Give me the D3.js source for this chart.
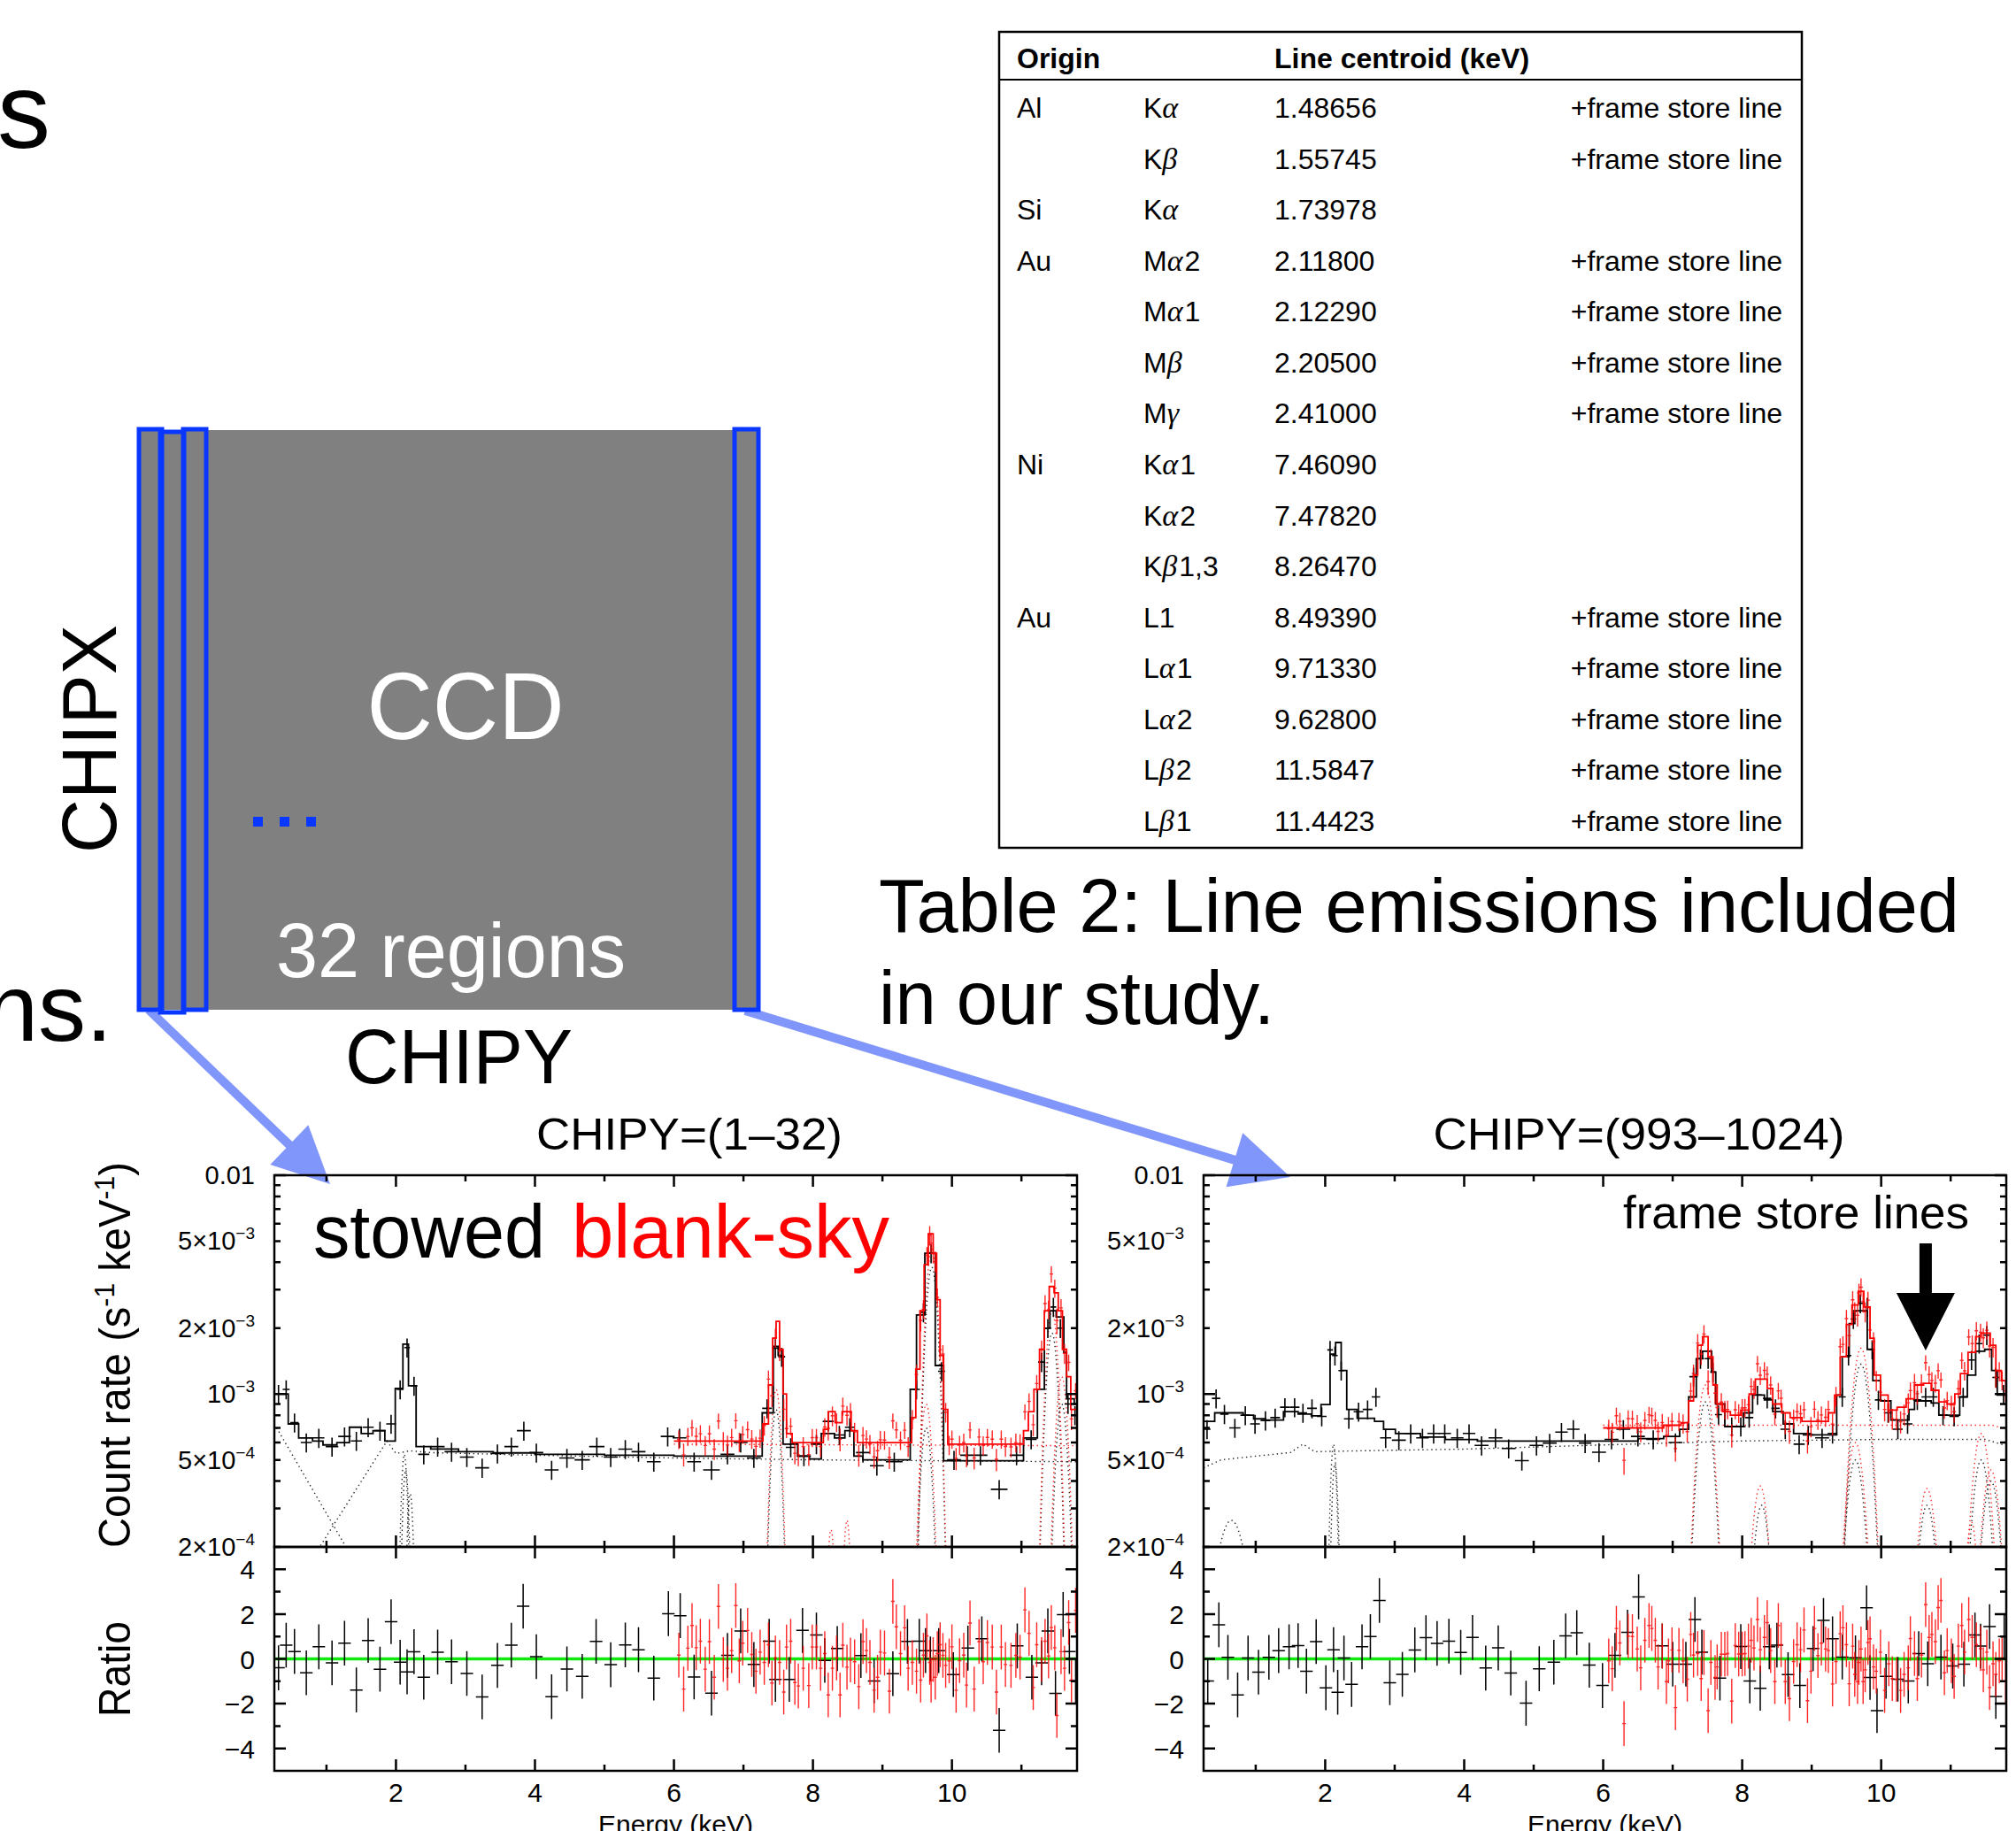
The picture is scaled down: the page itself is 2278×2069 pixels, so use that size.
<!DOCTYPE html>
<html>
<head>
<meta charset="utf-8">
<script src="https://cdn.jsdelivr.net/npm/d3@7"></script>
<style>
  html, body { margin: 0; padding: 0; background: #fff; }
  svg { display: block; }
</style>
</head>
<body>
<svg id="fig" width="2278" height="2069"></svg>
<script>
// ---- table 2 ----
var tblOrigin = ['Al', '', 'Si', 'Au', '', '', '', 'Ni', '', '', 'Au', '', '', '', ''];
var tblLine = ['Kα', 'Kβ', 'Kα', 'Mα2', 'Mα1', 'Mβ', 'Mγ', 'Kα1', 'Kα2', 'Kβ1,3', 'L1', 'Lα1', 'Lα2', 'Lβ2', 'Lβ1'];
var tblCentroid = ['1.48656', '1.55745', '1.73978', '2.11800', '2.12290', '2.20500', '2.41000',
  '7.46090', '7.47820', '8.26470', '8.49390', '9.71330', '9.62800', '11.5847', '11.4423'];
var tblFrameStore = [1, 1, 0, 1, 1, 1, 1, 0, 0, 0, 1, 1, 1, 1, 1];

// ---- spectra: axis ranges and tick labels ----
var E_RANGE = [0.25, 11.8];
var RATE_RANGE = [2e-4, 1e-2];
var RATIO_RANGE = [-5, 5];
var energyLabels = [2, 4, 6, 8, 10];
var energyMinor = [1, 3, 5, 7, 9, 11];
var rateLabels = [[1e-2, '0.01', ''], [5e-3, '5×10', '−3'], [2e-3, '2×10', '−3'],
  [1e-3, '10', '−3'], [5e-4, '5×10', '−4'], [2e-4, '2×10', '−4']];
var ratioLabels = [4, 2, 0, -2, -4];

// relative errors and bin half widths
var BLK_ERR = 0.1, RED_ERR = 0.1, BLK_RHW = 0.09, RED_HW = 0.025;

// ---- CHIPY=(1-32) ----
// stowed data: [energy, half width, rate]
var stowedL = [[0.31,0.05,1.0e-3],[0.42,0.05,1.05e-3],[0.54,0.06,7.4e-4],[0.71,0.08,6.0e-4],[0.89,0.08,6.3e-4],
  [1.08,0.09,5.75e-4],[1.26,0.09,6.4e-4],[1.43,0.08,6.1e-4],[1.60,0.08,7.05e-4],[1.77,0.08,6.8e-4],
  [1.93,0.07,7.3e-4],[2.06,0.05,1.05e-3],[2.16,0.04,1.63e-3],[2.26,0.05,1.09e-3],[2.40,0.08,5.3e-4],
  [2.60,0.1,5.75e-4],[2.80,0.1,5.45e-4],[3.02,0.1,5.15e-4],[3.24,0.1,4.6e-4],[3.46,0.1,5.35e-4],
  [3.66,0.1,5.75e-4],[3.84,0.1,6.8e-4],[4.02,0.1,5.4e-4],[4.24,0.1,4.5e-4],[4.46,0.11,5.1e-4],
  [4.68,0.11,5.0e-4],[4.89,0.11,5.75e-4],[5.09,0.1,5.15e-4],[5.30,0.1,5.6e-4],[5.49,0.1,5.45e-4],
  [5.71,0.1,4.9e-4],[5.91,0.1,6.4e-4],[6.08,0.1,6.3e-4],[6.29,0.1,4.9e-4],[6.54,0.12,4.5e-4],
  [6.77,0.1,5.3e-4],[6.96,0.1,6.0e-4],[7.15,0.1,5.1e-4],[7.34,0.07,8.6e-4],[7.46,0.05,1.62e-3],
  [7.55,0.05,1.48e-3],[7.68,0.07,5.7e-4],[7.87,0.1,5.2e-4],[8.05,0.08,5.9e-4],[8.22,0.08,7.5e-4],
  [8.38,0.08,6.5e-4],[8.53,0.07,7.05e-4],[8.72,0.1,5.4e-4],[8.92,0.1,4.7e-4],[9.17,0.12,4.9e-4],
  [9.49,0.05,1.05e-3],[9.59,0.04,2.36e-3],[9.70,0.04,4.4e-3],[9.85,0.05,1.27e-3],[10.03,0.1,5.0e-4],
  [10.22,0.1,5.25e-4],[10.41,0.1,5.25e-4],[10.68,0.12,3.67e-4],[10.93,0.1,5.25e-4],[11.14,0.08,6.2e-4],
  [11.29,0.05,1.4e-3],[11.38,0.05,2.0e-3],[11.46,0.04,2.5e-3],[11.56,0.05,2.0e-3],[11.67,0.05,9.0e-4],
  [11.77,0.04,8.0e-4]];
// folded model, step starts: [energy, rate]
var stowedModelL = [[0.25,1.0e-3],[0.45,7.3e-4],[0.60,6.3e-4],[0.80,6.1e-4],[0.95,5.85e-4],[1.15,6.0e-4],
  [1.33,7.05e-4],[1.50,6.6e-4],[1.67,6.8e-4],[1.84,6.1e-4],[1.99,1.06e-3],[2.10,1.69e-3],[2.18,1.09e-3],
  [2.29,5.75e-4],[2.50,5.6e-4],[2.90,5.45e-4],[3.40,5.38e-4],[4.00,5.3e-4],[5.00,5.25e-4],[6.00,5.2e-4],
  [7.27,8.2e-4],[7.43,1.65e-3],[7.50,1.5e-3],[7.57,5.9e-4],[7.78,5.2e-4],[7.95,5.05e-4],[8.12,6.6e-4],
  [8.31,6.3e-4],[8.46,6.8e-4],[8.59,5.2e-4],[8.72,5.0e-4],[9.40,1.05e-3],[9.49,2.3e-3],[9.61,4.4e-3],
  [9.76,1.35e-3],[9.88,4.95e-4],[11.03,6.3e-4],[11.23,1.05e-3],[11.33,2.0e-3],[11.41,2.4e-3],
  [11.50,2.25e-3],[11.61,1.55e-3],[11.65,9.5e-4],[11.76,9.0e-4]];
var skyModelL = [[6.00,6.1e-4],[7.28,7.3e-4],[7.36,1.1e-3],[7.42,1.8e-3],[7.47,2.15e-3],[7.52,1.6e-3],
  [7.57,1.0e-3],[7.62,6.6e-4],[7.70,6.0e-4],[8.15,6.9e-4],[8.22,8.3e-4],[8.32,7.4e-4],[8.42,8.3e-4],
  [8.55,6.8e-4],[8.64,6.0e-4],[9.42,7.8e-4],[9.48,1.3e-3],[9.54,2.4e-3],[9.60,3.9e-3],[9.66,5.4e-3],
  [9.73,4.4e-3],[9.78,2.7e-3],[9.83,1.5e-3],[9.88,8.5e-4],[9.94,5.9e-4],[11.03,6.8e-4],[11.10,8.3e-4],
  [11.18,1.05e-3],[11.26,1.6e-3],[11.33,2.4e-3],[11.40,3.1e-3],[11.47,2.9e-3],[11.53,2.4e-3],
  [11.59,1.6e-3],[11.65,1.2e-3],[11.71,8.5e-4]];
// dotted continuum components: [energy, rate]
var stowedContL = [[[0.25,7.3e-4],[1.30,1.95e-4]],
  [[0.88,1.95e-4],[1.87,6.1e-4],[2.00,5.35e-4],[2.20,5.5e-4],[2.50,5.4e-4],[4.0,5.25e-4],[6.0,5.1e-4],
   [8.0,5.0e-4],[10.0,4.95e-4],[11.8,4.9e-4]]];
var skyContL = [[[6.0,5.9e-4],[11.8,5.8e-4]]];
// dotted gaussian lines: [centre, peak rate, sigma]
var stowedLinesL = [[2.12,5.3e-4,0.045],[2.14,4.5e-4,0.045],[2.205,3.5e-4,0.045],[7.47,8.5e-4,0.07],
  [9.71,3.8e-3,0.08],[9.63,7.0e-4,0.08],[11.44,1.9e-3,0.08],[11.58,9.0e-4,0.08]];
var skyLinesL = [[7.47,1.05e-3,0.07],[8.26,2.4e-4,0.05],[8.49,2.65e-4,0.05],[9.71,4.6e-3,0.08],
  [9.63,9.0e-4,0.08],[11.44,2.4e-3,0.08],[11.58,1.2e-3,0.08]];
// residuals: [energy, (data-model)/error]
var stowedRatioL = [[0.31,-0.40],[0.42,0.61],[0.54,0.33],[0.71,-0.62],[0.89,0.54],[1.08,-0.18],[1.26,0.70],
  [1.43,-1.39],[1.60,0.82],[1.77,-0.46],[1.93,1.66],[2.06,-0.15],[2.16,-0.58],[2.26,0.32],[2.40,-0.82],
  [2.60,0.30],[2.80,-0.13],[3.02,-0.65],[3.24,-1.70],[3.46,-0.29],[3.66,0.61],[3.83,2.35],[4.02,0.10],
  [4.24,-1.69],[4.46,-0.45],[4.68,-0.78],[4.88,0.78],[5.09,-0.26],[5.30,0.62],[5.49,0.41],[5.71,-0.86],
  [5.92,2.02],[6.09,1.93],[6.29,-0.81],[6.54,-1.53],[6.77,0.16],[6.96,1.25],[7.15,-0.25],[7.37,0.79],
  [7.46,-0.92],[7.66,-0.92],[7.85,1.27],[8.05,1.07],[8.17,-0.07],[8.35,0.46],[8.69,0.15],[8.88,-0.99],
  [9.15,-0.66],[9.36,0.78],[9.53,0.79],[9.62,0.37],[9.69,0.00],[9.81,0.37],[10.02,-0.70],[10.23,0.48],
  [10.43,0.90],[10.68,-3.19],[10.94,0.58],[11.15,-0.82],[11.29,-0.18],[11.38,1.25],[11.49,-1.54],
  [11.60,1.98],[11.69,0.33],[11.78,-0.98]];
var skyRatioL = [[6.07,0.17],[6.14,-1.35],[6.20,0.48],[6.26,1.49],[6.32,0.50],[6.38,0.79],[6.45,-0.46],
  [6.51,0.77],[6.58,-0.82],[6.64,2.34],[6.71,-0.03],[6.77,-0.42],[6.83,0.37],[6.89,2.38],[6.94,-0.09],
  [6.99,0.70],[7.06,1.27],[7.12,0.20],[7.18,-0.55],[7.24,0.30],[7.30,-0.16],[7.36,0.63],[7.41,-1.08],
  [7.46,0.04],[7.52,-0.16],[7.58,-1.48],[7.62,0.53],[7.68,0.79],[7.74,-1.06],[7.79,-1.21],[7.86,-0.42],
  [7.94,-1.19],[7.99,0.53],[8.05,0.53],[8.11,-0.42],[8.17,0.24],[8.22,-1.61],[8.28,-0.42],[8.34,0.04],
  [8.39,-1.61],[8.43,0.61],[8.49,-0.37],[8.54,-0.05],[8.60,-0.13],[8.66,-1.24],[8.72,0.77],[8.77,0.37],
  [8.82,-0.16],[8.88,-1.40],[8.93,-0.82],[8.97,0.30],[9.03,0.26],[9.10,-1.44],[9.15,2.57],[9.20,1.43],
  [9.26,0.24],[9.32,1.39],[9.37,-0.42],[9.43,-0.16],[9.49,-0.55],[9.55,-0.95],[9.59,0.17],[9.64,1.03],
  [9.68,-0.16],[9.70,-0.95],[9.73,-0.03],[9.76,-0.82],[9.79,0.24],[9.83,0.63],[9.87,0.16],[9.91,-0.29],
  [9.96,-0.09],[10.00,0.54],[10.06,-1.40],[10.11,-0.08],[10.17,0.17],[10.21,-1.17],[10.26,1.60],
  [10.32,-1.35],[10.39,0.77],[10.45,-0.13],[10.51,0.73],[10.58,0.53],[10.64,-1.48],[10.71,0.53],
  [10.77,-0.25],[10.85,-0.29],[10.92,0.16],[10.98,0.08],[11.05,2.19],[11.11,1.14],[11.17,-1.28],
  [11.22,0.63],[11.29,-0.03],[11.34,0.79],[11.39,0.13],[11.43,1.40],[11.48,0.50],[11.51,-2.53],
  [11.57,0.32],[11.62,-0.42],[11.68,1.62],[11.72,-0.95],[11.78,2.17]];

// ---- CHIPY=(993-1024) ----
var stowedR = [[0.30,0.05,6.9e-4],[0.43,0.06,9.55e-4],[0.55,0.06,8.1e-4],[0.70,0.08,7.0e-4],[0.85,0.07,8.0e-4],
  [0.99,0.07,7.3e-4],[1.14,0.07,7.57e-4],[1.28,0.07,7.8e-4],[1.42,0.07,8.7e-4],[1.56,0.07,8.7e-4],
  [1.68,0.06,8.2e-4],[1.81,0.07,8.6e-4],[1.95,0.07,7.9e-4],[2.07,0.04,1.59e-3],[2.14,0.04,1.5e-3],
  [2.23,0.04,1.28e-3],[2.34,0.07,7.7e-4],[2.48,0.07,8.3e-4],[2.61,0.07,8.5e-4],[2.73,0.06,9.7e-4],
  [2.87,0.08,6.3e-4],[3.06,0.1,6.15e-4],[3.23,0.09,6.6e-4],[3.40,0.09,6.3e-4],[3.56,0.09,6.6e-4],
  [3.72,0.09,6.6e-4],[3.90,0.09,6.3e-4],[4.07,0.09,6.6e-4],[4.25,0.1,5.82e-4],[4.45,0.1,6.3e-4],
  [4.64,0.1,5.64e-4],[4.83,0.1,4.96e-4],[5.04,0.1,5.82e-4],[5.23,0.1,5.97e-4],[5.40,0.09,6.7e-4],
  [5.57,0.09,6.9e-4],[5.74,0.09,5.97e-4],[5.94,0.1,5.42e-4],[6.12,0.1,6.2e-4],[6.29,0.1,6.9e-4],
  [6.50,0.1,6.4e-4],[6.72,0.1,6.2e-4],[7.04,0.1,6.0e-4],[7.30,0.06,1.2e-3],[7.40,0.05,1.45e-3],
  [7.51,0.05,1.45e-3],[7.58,0.04,1.26e-3],[7.66,0.05,8.05e-4],[7.85,0.07,7.1e-4],[7.98,0.07,7.1e-4],
  [8.10,0.06,7.8e-4],[8.22,0.06,9.9e-4],[8.36,0.06,9.55e-4],[8.48,0.06,8.6e-4],[8.62,0.07,6.9e-4],
  [8.82,0.08,5.9e-4],[8.95,0.08,6.5e-4],[9.15,0.1,6.3e-4],[9.30,0.07,6.6e-4],[9.44,0.05,9.7e-4],
  [9.53,0.04,1.5e-3],[9.60,0.04,2.2e-3],[9.70,0.04,2.6e-3],[9.80,0.04,2.5e-3],[9.87,0.04,1.6e-3],
  [9.96,0.05,9.4e-4],[10.10,0.06,8.2e-4],[10.24,0.07,6.9e-4],[10.38,0.07,7.3e-4],[10.52,0.06,9.4e-4],
  [10.64,0.06,9.7e-4],[10.75,0.06,9.7e-4],[10.89,0.07,8.0e-4],[11.05,0.07,7.9e-4],[11.18,0.06,9.7e-4],
  [11.30,0.05,1.43e-3],[11.41,0.05,1.7e-3],[11.52,0.05,1.86e-3],[11.65,0.05,1.19e-3],[11.76,0.04,1.0e-3]];
var stowedModelR = [[0.25,7.5e-4],[0.41,8.2e-4],[0.82,8.0e-4],[0.97,7.7e-4],[1.14,7.6e-4],[1.40,8.3e-4],
  [1.61,8.1e-4],[1.80,7.95e-4],[1.94,8.95e-4],[2.07,1.52e-3],[2.15,1.72e-3],[2.23,1.28e-3],[2.31,8.5e-4],
  [2.46,7.75e-4],[2.71,7.5e-4],[2.84,6.9e-4],[3.01,6.6e-4],[3.37,6.35e-4],[3.73,6.2e-4],[4.19,6.1e-4],
  [6.50,6.25e-4],[6.87,6.4e-4],[7.10,6.9e-4],[7.23,9.7e-4],[7.34,1.45e-3],[7.43,1.57e-3],[7.56,1.26e-3],
  [7.62,9.0e-4],[7.75,7.1e-4],[8.02,8.2e-4],[8.15,9.9e-4],[8.32,9.4e-4],[8.44,8.3e-4],[8.59,7.3e-4],
  [8.74,6.6e-4],[8.99,6.5e-4],[9.36,9.9e-4],[9.44,1.48e-3],[9.54,2.1e-3],[9.62,2.4e-3],[9.80,1.6e-3],
  [9.88,1.15e-3],[9.99,9.3e-4],[10.14,7.6e-4],[10.40,8.5e-4],[10.48,9.3e-4],[10.72,9.1e-4],[10.83,8.0e-4],
  [11.13,9.7e-4],[11.24,1.22e-3],[11.36,1.57e-3],[11.49,1.6e-3],[11.59,1.28e-3],[11.67,9.9e-4]];
var skyModelR = [[6.00,7.0e-4],[6.87,7.2e-4],[7.12,7.4e-4],[7.23,9.3e-4],[7.30,1.22e-3],[7.36,1.67e-3],
  [7.43,1.83e-3],[7.51,1.48e-3],[7.58,1.1e-3],[7.64,9.0e-4],[7.72,8.3e-4],[7.83,8.0e-4],[7.98,8.45e-4],
  [8.10,1.0e-3],[8.19,1.17e-3],[8.36,1.06e-3],[8.44,9.0e-4],[8.57,8.2e-4],[8.69,7.8e-4],[8.86,7.5e-4],
  [9.24,8.2e-4],[9.33,9.9e-4],[9.41,1.48e-3],[9.50,2.08e-3],[9.58,2.55e-3],[9.67,2.95e-3],[9.75,2.5e-3],
  [9.84,1.8e-3],[9.90,1.22e-3],[9.99,9.9e-4],[10.10,8.45e-4],[10.23,8.7e-4],[10.36,9.5e-4],[10.48,1.1e-3],
  [10.61,1.12e-3],[10.72,1.04e-3],[10.83,9.2e-4],[10.95,9.0e-4],[11.06,1.0e-3],[11.14,1.24e-3],
  [11.25,1.55e-3],[11.36,1.83e-3],[11.44,1.9e-3],[11.57,1.67e-3],[11.65,1.28e-3],[11.73,1.15e-3]];
var stowedContR = [[[0.25,4.6e-4],[0.5,5.0e-4],[1.0,5.2e-4],[1.5,5.4e-4],[1.68,5.9e-4],[1.85,5.45e-4],
  [2.5,5.5e-4],[4.0,5.6e-4],[6.0,5.85e-4],[8.0,6.1e-4],[10.0,6.2e-4],[11.5,6.2e-4],[11.8,5.8e-4]]];
var skyContR = [[[6.0,7.2e-4],[11.6,7.2e-4],[11.8,6.9e-4]]];
var stowedLinesR = [[0.65,2.65e-4,0.22],[2.12,5.9e-4,0.045],[2.14,4.8e-4,0.045],[7.47,9.2e-4,0.11],
  [8.28,3.1e-4,0.11],[9.71,1.37e-3,0.12],[9.63,5.0e-4,0.12],[10.66,3.1e-4,0.12],[11.44,5.0e-4,0.12],
  [11.58,4.0e-4,0.12]];
var skyLinesR = [[7.47,1.1e-3,0.11],[8.26,3.8e-4,0.11],[9.71,1.62e-3,0.12],[9.63,6.0e-4,0.12],
  [10.66,3.7e-4,0.12],[11.44,6.6e-4,0.12],[11.58,4.5e-4,0.12],[11.30,2.6e-4,0.08]];
var stowedRatioR = [[0.31,-0.99],[0.47,1.52],[0.60,0.07],[0.74,-1.61],[0.89,0.04],[1.04,-0.59],[1.19,0.07],
  [1.33,0.37],[1.48,0.54],[1.61,0.59],[1.73,-0.55],[1.87,0.77],[2.01,-1.29],[2.12,0.41],[2.18,-1.49],
  [2.27,0.04],[2.38,-1.14],[2.53,0.54],[2.65,1.00],[2.78,2.61],[2.93,-1.07],[3.11,-0.69],[3.29,0.40],
  [3.45,0.95],[3.61,0.69],[3.78,0.79],[3.95,0.29],[4.12,0.96],[4.31,-0.41],[4.49,0.49],[4.67,-0.63],
  [4.89,-1.98],[5.08,-0.44],[5.29,-0.15],[5.46,1.03],[5.62,1.17],[5.80,-0.28],[5.99,-1.19],[6.17,0.16],
  [6.35,1.19],[6.51,2.77],[6.85,0.58],[7.00,-0.24],[7.19,-0.24],[7.32,1.76],[7.42,0.30],[7.68,-0.86],
  [7.98,0.55],[8.11,-0.99],[8.26,-1.31],[8.39,0.54],[8.50,0.61],[8.66,-0.70],[8.83,-1.19],[9.02,0.46],
  [9.17,1.72],[9.30,0.90],[9.44,0.08],[9.63,0.05],[9.79,2.28],[9.84,-0.83],[9.94,-2.31],[10.07,-0.78],
  [10.24,-0.91],[10.39,-0.99],[10.54,0.24],[10.67,-0.22],[10.86,0.08],[11.03,-0.32],[11.19,-0.24],
  [11.35,1.07],[11.43,0.57],[11.56,1.44],[11.65,-1.68],[11.77,1.00]];
var skyRatioR = [[6.08,-0.09],[6.13,-0.44],[6.19,1.36],[6.24,0.71],[6.30,-2.89],[6.36,1.02],[6.42,1.00],
  [6.49,0.44],[6.54,-0.40],[6.60,0.83],[6.66,1.49],[6.70,1.36],[6.75,0.83],[6.79,-0.36],[6.85,0.57],
  [6.91,-1.02],[6.94,-0.09],[6.99,0.40],[7.04,-2.18],[7.09,0.38],[7.15,-0.09],[7.21,-0.91],[7.26,1.09],
  [7.30,0.17],[7.36,0.24],[7.41,-0.88],[7.45,0.28],[7.51,-2.31],[7.55,-0.16],[7.61,-0.83],[7.64,-0.36],
  [7.70,0.21],[7.75,0.21],[7.79,0.24],[7.85,-1.89],[7.90,0.59],[7.95,0.22],[8.00,0.22],[8.04,0.24],
  [8.09,0.57],[8.13,0.83],[8.17,0.49],[8.22,1.76],[8.26,0.41],[8.32,0.96],[8.36,1.62],[8.41,0.37],
  [8.47,-1.02],[8.52,1.49],[8.56,0.63],[8.62,-1.02],[8.68,-1.78],[8.74,-0.12],[8.79,0.63],[8.84,0.41],
  [8.89,1.29],[8.94,-1.87],[8.99,-0.55],[9.04,1.36],[9.09,0.15],[9.14,0.70],[9.20,0.44],[9.24,0.37],
  [9.30,-1.12],[9.35,-0.12],[9.41,1.12],[9.45,1.39],[9.50,0.63],[9.54,-1.11],[9.59,0.57],[9.62,-0.69],
  [9.66,-1.02],[9.68,-0.16],[9.71,0.44],[9.74,-1.02],[9.77,-0.49],[9.81,0.73],[9.84,0.90],[9.89,-0.36],
  [9.93,-0.55],[9.99,0.30],[10.05,-1.41],[10.11,-0.22],[10.16,-0.88],[10.22,-0.92],[10.28,-1.41],
  [10.33,-0.69],[10.39,-0.40],[10.42,0.91],[10.48,0.24],[10.52,-0.88],[10.58,0.17],[10.64,2.42],
  [10.69,0.96],[10.73,1.09],[10.78,0.77],[10.82,2.29],[10.86,2.61],[10.91,-0.62],[10.95,0.37],
  [11.01,-0.09],[11.05,-0.78],[11.11,0.57],[11.16,1.49],[11.20,0.30],[11.26,1.76],[11.31,0.96],
  [11.37,0.63],[11.43,0.46],[11.47,-0.49],[11.52,0.30],[11.56,-1.28],[11.61,-0.22],[11.65,-0.69],
  [11.70,-0.09],[11.74,0.04],[11.79,-1.02]];
var frameStoreArrowE = 10.64;

var FONT = '"Liberation Sans", Arial, Helvetica, sans-serif';
var Y_TOP = 1328, Y_MID = 1748, Y_BOT = 2001;
var svg = d3.select('#fig');
svg.append('rect').attr('width', 2278).attr('height', 2069).attr('fill', '#fff');

function label(g, x, y, str, size, opts) {
  opts = opts || {};
  var t = g.append('text')
    .attr('x', x).attr('y', y)
    .attr('font-family', FONT)
    .attr('font-size', size)
    .attr('fill', opts.fill || '#000')
    .attr('text-anchor', opts.anchor || 'start')
    .text(str);
  if (opts.weight) t.attr('font-weight', opts.weight);
  if (opts.width) t.attr('textLength', opts.width).attr('lengthAdjust', 'spacingAndGlyphs');
  if (opts.transform) t.attr('transform', opts.transform);
  return t;
}

// slide text cut off at the left edge, as in the source
label(svg, -3, 167, 's', 120);
label(svg, -17, 1176, 'ns.', 108);

// ---- arrows from the CCD strips to the spectra ----
function arrow(x1, y1, x2, y2, color, w, headLen, headHalf) {
  var dx = x2 - x1, dy = y2 - y1, L = Math.hypot(dx, dy), ux = dx / L, uy = dy / L;
  var bx = x2 - ux * headLen, by = y2 - uy * headLen;
  svg.append('line')
    .attr('x1', x1).attr('y1', y1).attr('x2', bx + ux * 4).attr('y2', by + uy * 4)
    .attr('stroke', color).attr('stroke-width', w);
  svg.append('path')
    .attr('d', 'M' + x2 + ',' + y2 +
      'L' + (bx - uy * headHalf) + ',' + (by + ux * headHalf) +
      'L' + (bx + uy * headHalf) + ',' + (by - ux * headHalf) + 'Z')
    .attr('fill', color);
}
arrow(168, 1141, 373, 1338, '#8096fa', 10, 64, 31);
arrow(842, 1142, 1458, 1330, '#8096fa', 10, 66, 32);

// ---- CCD sketch ----
var ccd = svg.append('g');
ccd.append('rect').attr('x', 157).attr('y', 486).attr('width', 700).attr('height', 655).attr('fill', '#808080');
var strips = [[157, 485, 26], [181, 488, 27], [207, 485, 26], [830, 485, 27]];
ccd.selectAll('rect.strip').data(strips).enter().append('rect')
  .attr('class', 'strip')
  .attr('x', function (d) { return d[0]; })
  .attr('y', function (d) { return d[1]; })
  .attr('width', function (d) { return d[2]; })
  .attr('height', 656)
  .attr('fill', 'none')
  .attr('stroke', '#0a37ff')
  .attr('stroke-width', 5);
ccd.selectAll('rect.dot').data([286, 316, 346]).enter().append('rect')
  .attr('class', 'dot')
  .attr('x', function (d) { return d; }).attr('y', 923)
  .attr('width', 11).attr('height', 11).attr('fill', '#0a37ff');
label(ccd, 526, 835, 'CCD', 108, {anchor: 'middle', fill: '#fff', width: 223});
label(ccd, 312, 1104, '32 regions', 88, {fill: '#fff', width: 395});
label(ccd, 0, 0, 'CHIPX', 88, {anchor: 'middle', width: 258, transform: 'translate(131,835) rotate(-90)'});
label(ccd, 390, 1224, 'CHIPY', 88, {width: 257});

// ---- table ----
var tbl = svg.append('g');
tbl.append('rect').attr('x', 1129).attr('y', 36).attr('width', 907).attr('height', 922)
  .attr('fill', 'none').attr('stroke', '#000').attr('stroke-width', 2.5);
tbl.append('line').attr('x1', 1129).attr('x2', 2036).attr('y1', 90).attr('y2', 90)
  .attr('stroke', '#000').attr('stroke-width', 2);
label(tbl, 1149, 77, 'Origin', 32, {weight: 'bold'});
label(tbl, 1440, 77, 'Line centroid (keV)', 32, {weight: 'bold'});
var rowY = d3.scaleLinear().domain([0, tblLine.length - 1]).range([133, 939]);
tblLine.forEach(function (ln, i) {
  var y = rowY(i);
  if (tblOrigin[i]) label(tbl, 1149, y, tblOrigin[i], 32);
  var t = tbl.append('text').attr('x', 1292).attr('y', y)
    .attr('font-family', FONT).attr('font-size', 32);
  var m = ln.match(/^([A-Z])([αβγ]?)(.*)$/);
  t.append('tspan').text(m[1]);
  if (m[2]) {
    t.append('tspan').attr('font-family', '"Liberation Serif", "DejaVu Serif", serif')
      .attr('font-style', 'italic').attr('font-size', 34).text(m[2]);
  }
  if (m[3]) t.append('tspan').attr('dx', m[2] ? 2 : 0).text(m[3]);
  label(tbl, 1440, y, tblCentroid[i], 32);
  if (tblFrameStore[i]) label(tbl, 2014, y, '+frame store line', 32, {anchor: 'end'});
});
label(svg, 993, 1053, 'Table 2: Line emissions included', 86, {width: 1221});
label(svg, 993, 1157, 'in our study.', 86, {width: 447});

// ---- spectra ----
function stepValue(model, e) {
  var v = model[0][1];
  model.forEach(function (d) { if (d[0] <= e) v = d[1]; });
  return v;
}
function gaussPts(c) {
  var pts = [];
  for (var k = -40; k <= 40; k++) {
    var u = k * 0.1;
    pts.push([c[0] + u * c[2], c[1] * Math.exp(-0.5 * u * u)]);
  }
  return pts;
}
function fmtRatio(v) { return v < 0 ? '−' + (-v) : String(v); }

function drawPanel(cfg) {
  var g = svg.append('g');
  var x = d3.scaleLinear().domain(E_RANGE).range([cfg.x0, cfg.x1]);
  var yU = d3.scaleLog().domain(RATE_RANGE).range([Y_MID, Y_TOP]);
  var yR = d3.scaleLinear().domain(RATIO_RANGE).range([Y_BOT, Y_MID]);
  var w = cfg.x1 - cfg.x0;

  var defs = g.append('defs');
  defs.append('clipPath').attr('id', 'cu' + cfg.id).append('rect')
    .attr('x', cfg.x0).attr('y', Y_TOP).attr('width', w).attr('height', Y_MID - Y_TOP);
  defs.append('clipPath').attr('id', 'cr' + cfg.id).append('rect')
    .attr('x', cfg.x0).attr('y', Y_MID).attr('width', w).attr('height', Y_BOT - Y_MID);

  var up = g.append('g').attr('clip-path', 'url(#cu' + cfg.id + ')');
  var lo = g.append('g').attr('clip-path', 'url(#cr' + cfg.id + ')');

  var lineU = d3.line().x(function (d) { return x(d[0]); }).y(function (d) { return yU(d[1]); });
  var stepU = d3.line().curve(d3.curveStepAfter)
    .x(function (d) { return x(d[0]); }).y(function (d) { return yU(d[1]); });

  function dotted(list, color) {
    up.selectAll(null).data(list).enter().append('path')
      .attr('d', lineU)
      .attr('fill', 'none').attr('stroke', color).attr('stroke-width', 1.4)
      .attr('stroke-dasharray', '1.4,3.6').attr('opacity', 0.85);
  }
  dotted(cfg.blkCont, '#000');
  dotted(cfg.blkLines.map(gaussPts), '#000');
  dotted(cfg.redCont, '#ff0000');
  dotted(cfg.redLines.map(gaussPts), '#ff0000');

  function model(m, color) {
    up.append('path')
      .attr('d', stepU(m.concat([[E_RANGE[1], m[m.length - 1][1]]])))
      .attr('fill', 'none').attr('stroke', color).attr('stroke-width', 1.8);
  }
  function crossesU(pts, color, sw, op) {
    up.selectAll(null).data(pts).enter().append('path')
      .attr('d', function (d) {
        return 'M' + x(d[0] - d[1]) + ',' + yU(d[2]) + 'H' + x(d[0] + d[1]) +
          'M' + x(d[0]) + ',' + yU(d[2] - d[3]) + 'V' + yU(d[2] + d[3]);
      })
      .attr('fill', 'none').attr('stroke', color).attr('stroke-width', sw).attr('opacity', op);
  }
  model(cfg.blkModel, '#000');
  crossesU(cfg.blkU.map(function (d) { return [d[0], d[1], d[2], d[2] * BLK_ERR]; }), '#000', 1.6, 1);
  model(cfg.redModel, '#ff0000');
  // upper red points rebuilt from the model step and the read residual
  crossesU(cfg.redR.map(function (d) {
    var m = stepValue(cfg.redModel, d[0]);
    return [d[0], RED_HW, m * (1 + d[1] * RED_ERR), m * RED_ERR];
  }), '#ff0000', 1.4, 0.85);

  // residual panel
  lo.append('line')
    .attr('x1', cfg.x0).attr('x2', cfg.x1).attr('y1', yR(0)).attr('y2', yR(0))
    .attr('stroke', '#10e810').attr('stroke-width', 3.5);
  function crossesR(pts, hw, color, sw, op) {
    lo.selectAll(null).data(pts).enter().append('path')
      .attr('d', function (d) {
        return 'M' + x(d[0] - hw) + ',' + yR(d[1]) + 'H' + x(d[0] + hw) +
          'M' + x(d[0]) + ',' + yR(d[1] - 1) + 'V' + yR(d[1] + 1);
      })
      .attr('fill', 'none').attr('stroke', color).attr('stroke-width', sw).attr('opacity', op);
  }
  crossesR(cfg.blkR, BLK_RHW, '#000', 1.5, 1);
  crossesR(cfg.redR, RED_HW, '#ff0000', 1.4, 0.85);

  // frames and ticks
  var ax = g.append('g').attr('stroke', '#000').attr('stroke-width', 2.5).attr('fill', 'none');
  ax.append('rect').attr('x', cfg.x0).attr('y', Y_TOP).attr('width', w).attr('height', Y_MID - Y_TOP);
  ax.append('rect').attr('x', cfg.x0).attr('y', Y_MID).attr('width', w).attr('height', Y_BOT - Y_MID);
  var tickD = [];
  energyLabels.concat(energyMinor).forEach(function (e) {
    var L = energyLabels.indexOf(e) >= 0 ? 13 : 7, xe = x(e);
    tickD.push('M' + xe + ',' + Y_TOP + 'v' + L);
    tickD.push('M' + xe + ',' + Y_MID + 'v' + (-L));
    tickD.push('M' + xe + ',' + Y_MID + 'v' + L);
    tickD.push('M' + xe + ',' + Y_BOT + 'v' + (-L));
  });
  yU.ticks().forEach(function (v) {
    var lg = Math.log10(v), L = Math.abs(lg - Math.round(lg)) < 1e-6 ? 13 : 7, yv = yU(v);
    tickD.push('M' + cfg.x0 + ',' + yv + 'h' + L);
    tickD.push('M' + cfg.x1 + ',' + yv + 'h' + (-L));
  });
  yR.ticks(10).forEach(function (v) {
    if (Math.abs(v) >= 5) return;
    var L = v % 2 === 0 ? 13 : 7, yv = yR(v);
    tickD.push('M' + cfg.x0 + ',' + yv + 'h' + L);
    tickD.push('M' + cfg.x1 + ',' + yv + 'h' + (-L));
  });
  ax.append('path').attr('d', tickD.join(''));

  // tick labels
  rateLabels.forEach(function (r) {
    var t = g.append('text').attr('x', cfg.x0 - 22).attr('y', yU(r[0]) + 10)
      .attr('font-family', FONT).attr('font-size', 29).attr('text-anchor', 'end');
    t.append('tspan').text(r[1]);
    if (r[2]) t.append('tspan').attr('font-size', 19).attr('dy', -12).text(r[2]);
  });
  ratioLabels.forEach(function (v) {
    label(g, cfg.x0 - 22, yR(v) + 11, fmtRatio(v), 30, {anchor: 'end'});
  });
  energyLabels.forEach(function (e) {
    label(g, x(e), 2036, String(e), 30, {anchor: 'middle'});
  });
  label(g, (cfg.x0 + cfg.x1) / 2, 2072, 'Energy (keV)', 30, {anchor: 'middle'});
  label(g, cfg.titleX, 1299, cfg.title, 50, {anchor: 'middle', width: cfg.titleW});
  return {x: x, yU: yU};
}

var left = drawPanel({
  id: 'L', x0: 310, x1: 1217, title: 'CHIPY=(1–32)', titleX: 779, titleW: 346,
  blkU: stowedL, blkModel: stowedModelL, blkCont: stowedContL, blkLines: stowedLinesL,
  redModel: skyModelL, redCont: skyContL, redLines: skyLinesL,
  blkR: stowedRatioL, redR: skyRatioL
});
var right = drawPanel({
  id: 'R', x0: 1360, x1: 2267, title: 'CHIPY=(993–1024)', titleX: 1852, titleW: 465,
  blkU: stowedR, blkModel: stowedModelR, blkCont: stowedContR, blkLines: stowedLinesR,
  redModel: skyModelR, redCont: skyContR, redLines: skyLinesR,
  blkR: stowedRatioR, redR: skyRatioR
});

// annotations
label(svg, 354, 1421, 'stowed', 86, {width: 262});
label(svg, 646, 1421, 'blank-sky', 86, {fill: '#ff0000', width: 359});
label(svg, 1834, 1388, 'frame store lines', 52, {width: 391});
var ax0 = right.x(frameStoreArrowE);
svg.append('path')
  .attr('d', 'M' + (ax0 - 7) + ',1405H' + (ax0 + 7) + 'V1461H' + (ax0 + 33) +
    'L' + ax0 + ',1526L' + (ax0 - 33) + ',1461H' + (ax0 - 7) + 'Z')
  .attr('fill', '#000');

// axis titles of the left panel
var yTitle = svg.append('text')
  .attr('transform', 'translate(147,1531) rotate(-90)')
  .attr('font-family', FONT).attr('font-size', 50).attr('text-anchor', 'middle')
  .attr('textLength', 436).attr('lengthAdjust', 'spacingAndGlyphs');
yTitle.append('tspan').text('Count rate (s');
yTitle.append('tspan').attr('font-size', 32).attr('dy', -18).text('-1');
yTitle.append('tspan').attr('dy', 18).text(' keV');
yTitle.append('tspan').attr('font-size', 32).attr('dy', -18).text('-1');
yTitle.append('tspan').attr('dy', 18).text(')');
label(svg, 0, 0, 'Ratio', 50, {transform: 'translate(147,1886) rotate(-90)', anchor: 'middle', width: 108});
</script>
</body>
</html>
